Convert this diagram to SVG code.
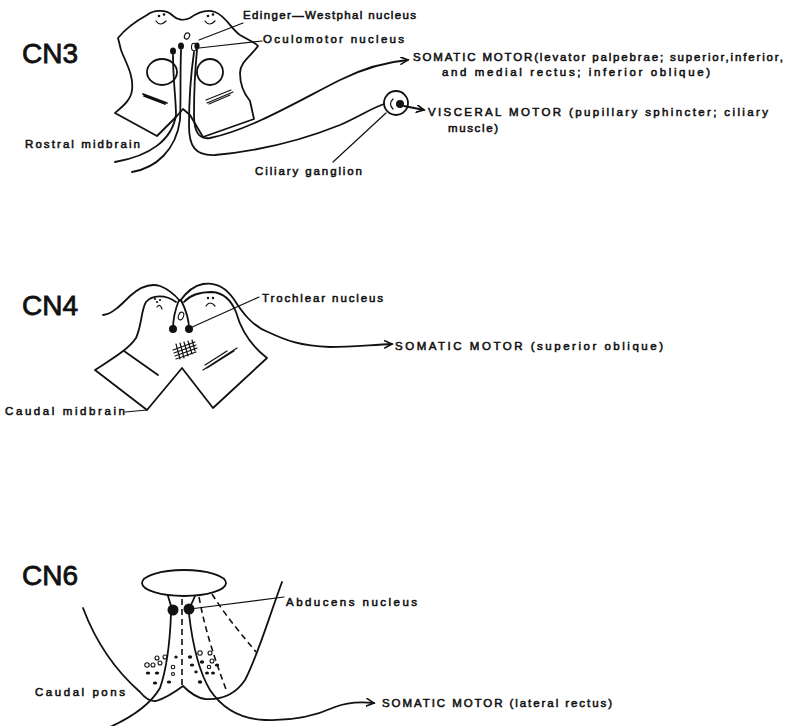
<svg xmlns="http://www.w3.org/2000/svg" width="801" height="726" viewBox="0 0 801 726">
<style>
  .ln{fill:none;stroke:#111;stroke-width:1.8;stroke-linecap:round;stroke-linejoin:round}
  .th{fill:none;stroke:#111;stroke-width:1.2;stroke-linecap:round}
  .ds{fill:none;stroke:#111;stroke-width:1.6;stroke-dasharray:6 4}
  .dot{fill:#111}
  .od{fill:none;stroke:#111;stroke-width:1.1}
  .t{font-family:"Liberation Sans",Arial,sans-serif;font-size:11.5px;fill:#111;stroke:#111;stroke-width:0.55}
  .cn{font-family:"Liberation Sans",Arial,sans-serif;font-size:28px;fill:#111;stroke:#111;stroke-width:0.8}
</style>
<defs>
  <marker id="arr" markerWidth="12" markerHeight="12" refX="8" refY="4" orient="auto" markerUnits="userSpaceOnUse">
    <path d="M0,0 L8,4 L0,8" fill="none" stroke="#111" stroke-width="1.6"/>
  </marker>
</defs>
<rect width="801" height="726" fill="#fff"/>

<!-- CN3 section -->
<g id="cn3">
  <text class="cn" x="22" y="63">CN3</text>
  <path class="ln" d="M118,38 C126,28 138,20 147,15 C153,10 166,9 172,15 C177,20 184,21 190,18 C197,13 206,9 215,12 C226,16 231,29 240,35 C248,40 255,42 258,46 C252,55 240,62 240,73 C240,86 245,95 250,101 L254,119 L203,137 L190,115 L183,109 L176,117 L157,136 L115,113 C123,106 131,100 132,90 C134,75 125,61 121,50 Z"/>
  <ellipse class="ln" cx="162" cy="72" rx="15" ry="13"/>
  <ellipse class="ln" cx="210" cy="72" rx="13" ry="13"/>
  <circle class="dot" cx="159" cy="16" r="1.3"/><circle class="dot" cx="164" cy="14.5" r="1.3"/>
  <path class="th" d="M156,21 Q160,27 166,21"/>
  <circle class="dot" cx="208" cy="16" r="1.3"/><circle class="dot" cx="213" cy="14.5" r="1.3"/>
  <path class="th" d="M205,21 Q209,27 215,21"/>
  <ellipse class="dot" cx="173" cy="51" rx="3" ry="3.6"/>
  <ellipse class="dot" cx="181" cy="46" rx="3" ry="3.6"/>
  <ellipse class="od" cx="187" cy="36" rx="2.5" ry="3.2" transform="rotate(25 187 36)"/>
  <ellipse class="od" cx="194" cy="47" rx="2.5" ry="3.8"/>
  <ellipse class="dot" cx="197" cy="46" rx="2.6" ry="3.4"/>
  <path class="ln" d="M143,94 L167,103 M144,96 L165,104" stroke-width="2.2"/>
  <path class="th" d="M207,103 L233,92 M206,100 L231,90 M209,104 L230,95"/>
  <g id="cn3-ganglion">
    <circle class="ln" cx="396" cy="103" r="12"/>
    <path class="th" d="M393,99 Q388,104 393,109"/>
    <circle class="dot" cx="400" cy="104" r="4"/>
  </g>
</g>

<!-- CN4 section -->
<g id="cn4">
  <text class="cn" x="22" y="315">CN4</text>
  <path class="ln" d="M176,302 C165,294 152,295 146,302 C141,310 142,325 136,338 C128,350 110,360 95,370 L147,410 L182,368 L213,408 L267,358 C250,345 241,330 236,312 C232,302 225,293 212,292 C200,292 190,295 184,302"/>
  <path class="ln" d="M179,300 C175,310 173,320 173,329 M181,300 C186,310 189,320 189,329"/>
  <ellipse class="od" cx="181" cy="316" rx="2.5" ry="4" transform="rotate(20 181 316)"/>
  <circle class="dot" cx="173" cy="329" r="4"/>
  <circle class="dot" cx="189" cy="329" r="4"/>
  <circle class="dot" cx="155" cy="299" r="1.1"/><circle class="dot" cx="157" cy="302" r="1.1"/><circle class="dot" cx="160" cy="300" r="1.1"/>
  <path class="th" d="M157,307 Q160,303 162,309"/>
  <circle class="dot" cx="208" cy="298" r="1.2"/><circle class="dot" cx="213" cy="298" r="1.2"/>
  <path class="th" d="M206,306 Q210,300 215,306"/>
  <g class="th">
    <path d="M173,350 L195,342 M174,353 L196,345 M175,356 L197,348 M176,359 L196,352"/>
    <path d="M176,344 L180,359 M180,343 L184,358 M184,342 L188,356 M188,341 L192,354 M192,340 L195,351"/>
  </g>
  <path class="ln" d="M124,351 L158,375" stroke-width="2.4"/>
  <path class="th" d="M203,370 L237,348 M207,368 L234,351 M205,365 L227,351"/>
</g>

<!-- CN6 section -->
<g id="cn6">
  <text class="cn" x="22" y="585">CN6</text>
  <ellipse class="ln" cx="184" cy="583" rx="42" ry="13"/>
  <path class="ln" d="M83,608 C95,640 115,670 140,692 C145,698 150,702 156,701 C166,698 175,692 183,686 C190,693 197,698 205,699 C220,700 235,695 245,680 C258,655 268,620 282,582"/>
  <path class="ln" d="M168,596 L171,606 M195,596 L191,605"/>
  <circle class="dot" cx="173" cy="610" r="5.5"/>
  <circle class="dot" cx="189" cy="609" r="5.5"/>
  <path class="ds" d="M182,599 L182,686"/>
  <path class="ds" d="M199,597 C205,630 215,660 227,692"/>
  <path class="ds" d="M212,594 C225,615 242,635 256,652"/>
  <g class="od">
    <circle cx="147" cy="665" r="2.2"/><circle cx="153" cy="665" r="2"/><circle cx="160" cy="663" r="2"/>
    <circle cx="157" cy="658" r="2"/><circle cx="165" cy="657" r="2"/><circle cx="173" cy="667" r="1.8"/>
    <circle cx="173" cy="674" r="1.5"/><circle cx="200" cy="653" r="2.2"/><circle cx="210" cy="653" r="2"/>
    <circle cx="212" cy="661" r="2"/><circle cx="209" cy="667" r="1.7"/>
  </g>
  <g class="dot">
    <ellipse cx="148" cy="673" rx="2.2" ry="1.6"/><ellipse cx="157" cy="673" rx="2.2" ry="1.6"/>
    <ellipse cx="155" cy="683" rx="2.2" ry="1.6"/><ellipse cx="169" cy="682" rx="2.2" ry="1.6"/>
    <ellipse cx="176" cy="657" rx="1.7" ry="1.5"/><ellipse cx="190" cy="657" rx="2.2" ry="1.7"/>
    <ellipse cx="192" cy="665" rx="2.2" ry="1.6"/><ellipse cx="202" cy="662" rx="2.2" ry="1.7"/>
    <ellipse cx="217" cy="665" rx="2.2" ry="1.6"/><ellipse cx="207" cy="673" rx="2" ry="1.6"/>
    <ellipse cx="213" cy="673" rx="2" ry="1.6"/><ellipse cx="200" cy="682" rx="2.2" ry="1.7"/>
    <ellipse cx="196" cy="672" rx="1.7" ry="1.4"/>
  </g>
</g>

<!-- connectors: nerve fibres and leader lines -->
<g id="connectors">
  <!-- CN3 -->
  <path class="ln" d="M173,55 C173,80 176,100 176,115 C172,140 150,156 115,162"/>
  <path class="ln" d="M181,50 C180,80 181,100 180,120 C176,150 156,168 132,172"/>
  <path class="ln" marker-end="url(#arr)" d="M197,50 C195,70 194,100 194,115 C194,130 198,140 210,138 C250,130 300,100 340,80 C360,70 385,62 408,60"/>
  <path class="ln" d="M194,52 C190,80 189,110 189,126 C189,146 195,156 215,155 C260,151 300,141 340,125 C360,116 372,108 384,104"/>
  <path class="ln" marker-end="url(#arr)" d="M404,106 L424,110"/>
  <path class="th" d="M243,23 L199,40"/>
  <path class="th" d="M262,41 L199,48"/>
  <path class="th" d="M386,113 L333,162"/>
  <!-- CN4 -->
  <path class="ln" marker-end="url(#arr)" d="M103,315 C112,314 120,306 130,296 C140,287 150,283 160,286 C168,289 175,295 180,301 C185,294 192,286 203,284 C215,282 225,287 233,298 C242,312 252,326 268,332 C285,340 300,346 330,347 C350,347 370,345 392,344"/>
  <path class="th" d="M190,328 L259,297"/>
  <path class="th" d="M125,412 L147,410"/>
  <!-- CN6 -->
  <path class="ln" d="M171,614 C170,640 168,665 160,688 C150,705 130,718 110,727"/>
  <path class="ln" marker-end="url(#arr)" d="M189,614 C192,640 198,670 210,690 C222,708 240,719 265,720 C290,721 315,716 335,707 C345,703 355,701 374,703"/>
  <path class="th" d="M190,609 L284,597"/>
</g>

<!-- labels -->
<g id="labels">
  <text class="t" x="243" y="19" textLength="173" lengthAdjust="spacing">Edinger—Westphal nucleus</text>
  <text class="t" x="263" y="43" textLength="141" lengthAdjust="spacing">Oculomotor nucleus</text>
  <text class="t" x="413" y="61" textLength="370" lengthAdjust="spacing">SOMATIC MOTOR(levator palpebrae; superior,inferior,</text>
  <text class="t" x="442" y="76" textLength="268" lengthAdjust="spacing">and medial rectus; inferior oblique)</text>
  <text class="t" x="428" y="116" textLength="340" lengthAdjust="spacing">VISCERAL  MOTOR (pupillary sphincter; ciliary</text>
  <text class="t" x="448" y="132" textLength="50" lengthAdjust="spacing">muscle)</text>
  <text class="t" x="25" y="148" textLength="115" lengthAdjust="spacing">Rostral midbrain</text>
  <text class="t" x="255" y="175" textLength="107" lengthAdjust="spacing">Ciliary ganglion</text>
  <text class="t" x="262" y="302" textLength="121" lengthAdjust="spacing">Trochlear nucleus</text>
  <text class="t" x="395" y="350" textLength="268" lengthAdjust="spacing">SOMATIC   MOTOR (superior oblique)</text>
  <text class="t" x="5" y="415" textLength="120" lengthAdjust="spacing">Caudal midbrain</text>
  <text class="t" x="286" y="606" textLength="131" lengthAdjust="spacing">Abducens nucleus</text>
  <text class="t" x="35" y="696" textLength="90" lengthAdjust="spacing">Caudal pons</text>
  <text class="t" x="382" y="707" textLength="230" lengthAdjust="spacing">SOMATIC MOTOR (lateral rectus)</text>
</g>
</svg>
